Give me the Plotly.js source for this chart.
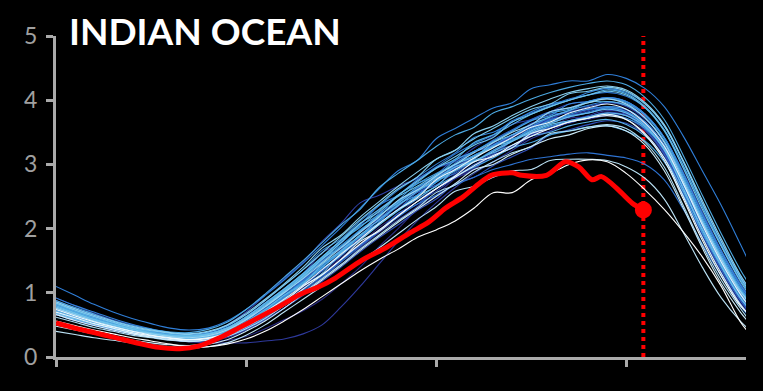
<!DOCTYPE html>
<html>
<head>
<meta charset="utf-8">
<script src="https://cdn.plot.ly/plotly-3.0.1.min.js"></script>
<style>html,body{margin:0;padding:0;background:#000;}#chart{width:763px;height:391px;}</style>
</head>
<body>
<div id="chart"></div>
<script>
// Day-of-year sample points for historical years
const days = [0,10,20,30,40,50,60,70,80,90,100,110,120,130,140,150,160,170,180,190,200,210,220,230,240,250,260,270,280,290,300,310,320,330,340,350,360,365];

// Historical sea-ice extent (million km²), Indian Ocean sector
const y1979 = [0.82,0.70,0.62,0.52,0.45,0.38,0.33,0.30,0.30,0.35,0.47,0.63,0.84,1.08,1.30,1.55,1.76,2.02,2.22,2.46,2.62,2.84,2.98,3.20,3.30,3.48,3.58,3.72,3.74,3.82,3.76,3.62,3.20,2.62,1.98,1.42,0.94,0.74];
const y1980 = [0.92,0.80,0.68,0.58,0.50,0.43,0.38,0.34,0.36,0.44,0.60,0.80,1.02,1.22,1.48,1.70,1.94,2.14,2.40,2.58,2.80,2.94,3.14,3.26,3.42,3.56,3.70,3.76,3.86,3.88,3.84,3.66,3.30,2.74,2.12,1.56,1.04,0.82];
const y1981 = [0.70,0.60,0.52,0.44,0.37,0.32,0.27,0.24,0.24,0.26,0.32,0.44,0.58,0.72,0.90,1.14,1.40,1.72,2.00,2.30,2.52,2.78,2.94,3.12,3.26,3.44,3.52,3.66,3.70,3.76,3.72,3.52,3.14,2.55,1.92,1.36,0.88,0.66];
const y1982 = [0.78,0.68,0.58,0.50,0.42,0.37,0.32,0.30,0.32,0.40,0.55,0.74,0.92,1.20,1.40,1.68,1.88,2.16,2.34,2.60,2.74,2.98,3.10,3.32,3.42,3.64,3.70,3.84,3.86,3.96,3.90,3.70,3.36,2.80,2.18,1.60,1.10,0.88];
const y1983 = [0.80,0.68,0.57,0.49,0.40,0.34,0.28,0.26,0.26,0.30,0.42,0.58,0.76,0.98,1.22,1.44,1.70,1.94,2.14,2.34,2.62,2.78,2.92,3.18,3.26,3.44,3.58,3.64,3.74,3.78,3.76,3.56,3.18,2.58,1.94,1.40,0.90,0.72];
const y1984 = [0.66,0.57,0.50,0.43,0.37,0.31,0.27,0.24,0.22,0.22,0.22,0.25,0.28,0.36,0.50,0.78,1.10,1.45,1.80,2.12,2.40,2.64,2.86,3.04,3.22,3.40,3.52,3.66,3.76,3.84,3.80,3.60,3.24,2.66,2.04,1.46,0.96,0.76];
const y1985 = [0.88,0.76,0.66,0.56,0.48,0.41,0.36,0.33,0.35,0.44,0.62,0.84,1.06,1.30,1.62,1.78,2.06,2.30,2.52,2.74,2.96,3.06,3.26,3.44,3.62,3.70,3.82,3.94,3.98,4.04,3.98,3.78,3.42,2.88,2.26,1.66,1.14,0.94];
const y1986 = [0.76,0.65,0.56,0.48,0.41,0.36,0.33,0.33,0.38,0.50,0.70,0.96,1.22,1.48,1.80,2.08,2.40,2.52,2.66,2.78,2.94,3.04,3.20,3.30,3.46,3.58,3.70,3.76,3.84,3.90,3.86,3.66,3.30,2.74,2.10,1.52,1.00,0.80];
const y1987 = [0.72,0.62,0.54,0.46,0.39,0.33,0.29,0.26,0.28,0.34,0.47,0.64,0.82,1.06,1.28,1.52,1.74,1.98,2.18,2.42,2.58,2.80,2.96,3.14,3.28,3.46,3.56,3.68,3.74,3.80,3.78,3.58,3.20,2.60,1.96,1.40,0.90,0.70];
const y1988 = [0.80,0.70,0.60,0.51,0.43,0.36,0.31,0.29,0.30,0.37,0.50,0.68,0.88,1.10,1.34,1.58,1.84,2.14,2.28,2.52,2.76,2.94,3.14,3.28,3.46,3.62,3.78,3.80,3.90,3.96,3.94,3.76,3.42,2.86,2.24,1.64,1.12,0.90];
const y1989 = [0.68,0.58,0.50,0.42,0.36,0.31,0.27,0.25,0.26,0.32,0.43,0.58,0.76,0.96,1.18,1.40,1.64,1.86,2.06,2.28,2.46,2.70,2.80,2.98,3.12,3.26,3.46,3.54,3.62,3.68,3.64,3.46,3.10,2.50,1.88,1.32,0.84,0.64];
const y1990 = [0.76,0.65,0.56,0.48,0.41,0.35,0.31,0.29,0.31,0.38,0.53,0.72,0.92,1.20,1.36,1.62,1.86,2.08,2.30,2.56,2.68,2.88,3.04,3.16,3.36,3.52,3.64,3.74,3.80,3.86,3.80,3.60,3.22,2.62,1.98,1.42,0.92,0.72];
const y1991 = [0.82,0.72,0.62,0.53,0.45,0.39,0.34,0.31,0.34,0.43,0.60,0.80,1.02,1.26,1.50,1.72,1.94,2.24,2.42,2.62,2.80,2.98,3.20,3.28,3.44,3.60,3.72,3.82,3.86,3.96,3.92,3.72,3.36,2.78,2.14,1.56,1.06,0.84];
const y1992 = [0.70,0.60,0.52,0.44,0.37,0.32,0.28,0.26,0.27,0.33,0.45,0.62,0.80,1.02,1.24,1.48,1.72,1.96,2.24,2.38,2.62,2.80,3.00,3.14,3.26,3.50,3.58,3.68,3.74,3.80,3.76,3.54,3.16,2.56,1.92,1.36,0.88,0.70];
const y1993 = [0.78,0.68,0.58,0.50,0.43,0.37,0.33,0.31,0.34,0.42,0.57,0.76,0.98,1.20,1.44,1.64,1.98,2.16,2.40,2.62,2.84,3.08,3.20,3.38,3.54,3.70,3.82,3.88,3.98,4.04,3.98,3.78,3.42,2.86,2.24,1.66,1.14,0.92];
const y1994 = [0.74,0.64,0.55,0.47,0.40,0.34,0.30,0.28,0.30,0.37,0.50,0.68,0.94,1.12,1.34,1.58,1.82,2.06,2.30,2.50,2.74,2.86,3.04,3.22,3.36,3.52,3.70,3.74,3.82,3.88,3.82,3.62,3.26,2.68,2.04,1.48,0.98,0.78];
const y1995 = [0.66,0.57,0.49,0.42,0.36,0.31,0.27,0.25,0.27,0.33,0.46,0.62,0.82,1.04,1.26,1.50,1.74,1.96,2.18,2.38,2.52,2.68,2.80,2.92,3.00,3.08,3.12,3.16,3.18,3.14,3.10,3.00,2.76,2.30,1.76,1.26,0.80,0.62];
const y1996 = [0.86,0.75,0.64,0.55,0.47,0.40,0.36,0.34,0.37,0.46,0.63,0.84,1.06,1.30,1.56,1.80,2.06,2.36,2.52,2.76,2.96,3.16,3.32,3.46,3.68,3.80,3.92,4.02,4.08,4.12,4.06,3.88,3.54,2.98,2.36,1.76,1.22,0.98];
const y1997 = [1.10,0.96,0.82,0.70,0.60,0.52,0.45,0.42,0.45,0.56,0.74,0.96,1.20,1.46,1.74,2.02,2.32,2.62,2.90,3.06,3.40,3.56,3.72,3.88,3.96,4.18,4.24,4.30,4.30,4.40,4.34,4.18,3.90,3.44,2.90,2.36,1.76,1.45];
const y1998 = [0.92,0.80,0.70,0.60,0.51,0.44,0.38,0.36,0.39,0.48,0.66,0.88,1.12,1.36,1.66,1.84,2.12,2.36,2.60,2.80,3.00,3.18,3.42,3.50,3.66,3.82,3.94,4.00,4.12,4.18,4.12,3.94,3.60,3.04,2.40,1.80,1.26,1.04];
const y1999 = [0.72,0.62,0.54,0.46,0.40,0.35,0.31,0.29,0.32,0.40,0.55,0.74,0.96,1.18,1.42,1.66,1.96,2.12,2.36,2.58,2.74,3.00,3.14,3.30,3.46,3.58,3.74,3.84,3.92,3.98,3.92,3.72,3.36,2.78,2.14,1.56,1.06,0.84];
const y2000 = [0.80,0.70,0.60,0.52,0.44,0.38,0.34,0.32,0.35,0.44,0.60,0.80,1.02,1.22,1.52,1.74,1.98,2.20,2.44,2.70,2.82,3.02,3.20,3.36,3.52,3.68,3.76,3.94,3.98,4.04,3.98,3.78,3.42,2.86,2.22,1.64,1.12,0.92];
const y2001 = [0.76,0.66,0.56,0.48,0.41,0.36,0.31,0.29,0.31,0.39,0.54,0.72,0.94,1.16,1.40,1.64,1.88,2.10,2.38,2.52,2.72,2.92,3.08,3.30,3.38,3.56,3.68,3.78,3.86,3.90,3.86,3.66,3.30,2.72,2.08,1.50,1.00,0.80];
const y2002 = [0.70,0.60,0.52,0.45,0.39,0.34,0.30,0.28,0.30,0.38,0.52,0.70,0.92,1.14,1.38,1.58,1.90,2.08,2.30,2.52,2.72,2.96,3.04,3.22,3.38,3.54,3.66,3.76,3.80,3.88,3.82,3.62,3.24,2.64,2.00,1.44,0.94,0.74];
const y2003 = [0.84,0.73,0.63,0.54,0.46,0.40,0.35,0.33,0.36,0.45,0.62,0.82,1.04,1.28,1.54,1.78,2.04,2.22,2.52,2.70,2.86,3.00,3.14,3.26,3.40,3.48,3.60,3.66,3.72,3.78,3.72,3.56,3.24,2.70,2.10,1.56,1.06,0.86];
const y2004 = [0.78,0.68,0.58,0.50,0.43,0.37,0.33,0.31,0.34,0.42,0.58,0.78,1.00,1.24,1.54,1.70,1.96,2.20,2.42,2.64,2.80,3.06,3.20,3.36,3.52,3.68,3.80,3.86,3.98,4.02,3.96,3.76,3.40,2.82,2.18,1.60,1.08,0.88];
const y2005 = [0.74,0.64,0.55,0.47,0.40,0.35,0.31,0.29,0.31,0.39,0.53,0.72,0.96,1.16,1.40,1.64,1.88,2.08,2.28,2.46,2.66,2.82,2.96,3.10,3.26,3.34,3.46,3.52,3.58,3.60,3.52,3.36,3.04,2.52,1.94,1.40,0.92,0.74];
const y2006 = [0.88,0.77,0.67,0.57,0.49,0.43,0.39,0.38,0.43,0.54,0.74,0.98,1.24,1.50,1.78,2.06,2.30,2.64,2.86,3.06,3.28,3.46,3.58,3.80,3.90,4.02,4.12,4.20,4.26,4.30,4.24,4.04,3.70,3.14,2.52,1.92,1.36,1.12];
const y2007 = [0.82,0.71,0.61,0.53,0.45,0.39,0.35,0.33,0.36,0.45,0.62,0.82,1.04,1.28,1.54,1.82,2.02,2.28,2.52,2.72,2.94,3.08,3.34,3.46,3.62,3.78,3.90,4.00,4.08,4.16,4.10,3.90,3.54,2.98,2.34,1.74,1.20,1.00];
const y2008 = [0.76,0.66,0.56,0.48,0.41,0.36,0.32,0.30,0.33,0.42,0.58,0.78,1.00,1.24,1.48,1.72,1.96,2.20,2.40,2.60,2.74,2.90,3.06,3.18,3.30,3.44,3.50,3.60,3.66,3.70,3.62,3.44,3.10,2.58,2.00,1.46,0.98,0.80];
const y2009 = [0.72,0.62,0.54,0.46,0.40,0.35,0.31,0.29,0.32,0.40,0.55,0.74,0.96,1.14,1.44,1.66,1.90,2.14,2.36,2.58,2.78,2.96,3.10,3.34,3.46,3.62,3.74,3.84,3.96,3.98,3.92,3.72,3.36,2.78,2.14,1.56,1.04,0.86];
const y2010 = [0.80,0.69,0.59,0.51,0.44,0.38,0.34,0.33,0.36,0.45,0.62,0.84,1.06,1.30,1.56,1.82,2.08,2.30,2.50,2.66,2.84,3.00,3.12,3.28,3.36,3.50,3.62,3.68,3.74,3.80,3.76,3.58,3.24,2.70,2.10,1.54,1.04,0.84];
const y2011 = [0.68,0.59,0.51,0.44,0.37,0.32,0.28,0.27,0.29,0.36,0.50,0.68,0.88,1.10,1.30,1.62,1.82,2.06,2.28,2.50,2.66,2.92,3.04,3.20,3.36,3.52,3.64,3.74,3.80,3.86,3.80,3.60,3.22,2.62,1.98,1.42,0.92,0.74];
const y2012 = [0.78,0.68,0.58,0.50,0.43,0.37,0.33,0.32,0.35,0.44,0.60,0.80,1.02,1.26,1.52,1.78,2.08,2.26,2.52,2.74,2.94,3.12,3.30,3.42,3.66,3.78,3.90,4.00,4.08,4.14,4.08,3.88,3.52,2.94,2.30,1.72,1.18,0.96];
const y2013 = [0.84,0.73,0.63,0.54,0.46,0.41,0.37,0.35,0.39,0.49,0.66,0.88,1.12,1.36,1.62,1.88,2.14,2.38,2.62,2.80,3.08,3.22,3.40,3.56,3.72,3.86,3.94,4.10,4.14,4.20,4.14,3.94,3.60,3.04,2.40,1.80,1.24,1.02];
const y2014 = [0.86,0.75,0.65,0.56,0.48,0.42,0.38,0.36,0.40,0.50,0.68,0.90,1.14,1.40,1.70,1.90,2.18,2.42,2.66,2.88,3.08,3.22,3.48,3.60,3.76,3.90,4.02,4.12,4.18,4.22,4.16,3.96,3.62,3.06,2.44,1.84,1.28,1.06];
const y2015 = [0.76,0.66,0.56,0.48,0.41,0.36,0.32,0.30,0.33,0.42,0.58,0.78,1.00,1.22,1.46,1.70,1.94,2.18,2.44,2.60,2.82,3.00,3.18,3.34,3.50,3.62,3.82,3.88,3.96,4.02,3.94,3.72,3.34,2.74,2.10,1.52,1.02,0.84];
const y2016 = [0.62,0.54,0.46,0.40,0.34,0.30,0.26,0.24,0.26,0.32,0.44,0.60,0.80,1.00,1.22,1.44,1.68,1.90,2.12,2.32,2.56,2.68,2.88,3.04,3.18,3.28,3.48,3.52,3.58,3.62,3.56,3.34,2.96,2.36,1.74,1.20,0.76,0.56];
const y2017 = [0.40,0.35,0.30,0.26,0.22,0.19,0.16,0.14,0.16,0.22,0.34,0.50,0.70,0.90,1.10,1.30,1.50,1.70,1.92,2.14,2.34,2.58,2.66,2.80,2.90,2.92,3.06,3.08,3.08,3.06,2.96,2.78,2.46,1.94,1.40,0.92,0.56,0.42];
const y2018 = [0.48,0.42,0.36,0.31,0.26,0.22,0.19,0.18,0.20,0.27,0.40,0.56,0.76,0.98,1.20,1.42,1.66,1.88,2.10,2.30,2.50,2.70,2.92,3.00,3.16,3.28,3.40,3.46,3.56,3.60,3.52,3.30,2.90,2.32,1.70,1.14,0.70,0.52];
const y2019 = [0.66,0.57,0.49,0.42,0.36,0.31,0.27,0.25,0.27,0.34,0.47,0.64,0.84,1.06,1.28,1.52,1.80,1.96,2.20,2.42,2.62,2.80,2.98,3.14,3.26,3.48,3.56,3.66,3.72,3.76,3.70,3.48,3.10,2.50,1.86,1.30,0.82,0.64];
const y2020 = [0.70,0.61,0.52,0.45,0.38,0.33,0.29,0.27,0.30,0.37,0.51,0.70,0.90,1.12,1.36,1.60,1.84,2.08,2.30,2.48,2.76,2.92,3.10,3.26,3.42,3.58,3.66,3.80,3.88,3.94,3.86,3.64,3.28,2.70,2.06,1.48,0.98,0.78];
const y2021 = [0.74,0.64,0.55,0.47,0.40,0.34,0.30,0.27,0.29,0.36,0.49,0.66,0.86,1.10,1.28,1.52,1.76,1.98,2.20,2.42,2.62,2.82,3.04,3.12,3.30,3.44,3.56,3.66,3.72,3.78,3.70,3.46,3.06,2.46,1.82,1.26,0.80,0.66];
const y2022 = [0.56,0.49,0.42,0.36,0.30,0.25,0.20,0.16,0.16,0.20,0.28,0.40,0.56,0.74,0.94,1.14,1.34,1.52,1.68,1.86,1.98,2.12,2.32,2.56,2.56,2.76,2.86,3.00,3.07,3.04,2.86,2.60,2.30,1.95,1.56,1.10,0.55,0.36];

const histYears = [1979,1980,1981,1982,1983,1984,1985,1986,1987,1988,1989,1990,1991,1992,1993,1994,1995,1996,1997,1998,1999,2000,2001,2002,2003,2004,2005,2006,2007,2008,2009,2010,2011,2012,2013,2014,2015,2016,2017,2018,2019,2020,2021,2022];
const histValues = [y1979,y1980,y1981,y1982,y1983,y1984,y1985,y1986,y1987,y1988,y1989,y1990,y1991,y1992,y1993,y1994,y1995,y1996,y1997,y1998,y1999,y2000,y2001,y2002,y2003,y2004,y2005,y2006,y2007,y2008,y2009,y2010,y2011,y2012,y2013,y2014,y2015,y2016,y2017,y2018,y2019,y2020,y2021,y2022];

// Current year (2023)
const curDays = [0,10,20,30,44,54,65,75,86,96,107,117,128,138,147,161,174,186,196,205,214,223,229,240,245,258,268,275,282,287,296,303,309];
const curValues = [0.53,0.45,0.38,0.31,0.21,0.15,0.13,0.17,0.30,0.45,0.62,0.78,0.97,1.09,1.23,1.51,1.71,1.93,2.10,2.32,2.49,2.71,2.83,2.87,2.83,2.83,3.04,2.96,2.76,2.81,2.60,2.40,2.29];

const titleText = 'INDIAN OCEAN';
const xTicks = [0,100,200,300];
const yTicks = [0,1,2,3,4,5];

// colour ramp (style): navy -> blue -> sky -> white
const stops = [[0,[40,36,120]],[0.2,[50,72,182]],[0.4,[45,122,215]],[0.6,[70,165,225]],[0.78,[115,198,236]],[0.9,[200,232,248]],[1,[255,255,255]]];
function ramp(t){
  for(let i=1;i<stops.length;i++){
    if(t<=stops[i][0]){
      const a=stops[i-1], b=stops[i]; const f=(t-a[0])/(b[0]-a[0]);
      const c=a[1].map((v,k)=>Math.round(v+(b[1][k]-v)*f));
      return 'rgb('+c.join(',')+')';
    }
  }
  return 'rgb(255,255,255)';
}

const traces = histValues.map((vals,i)=>({
  type:'scatter', mode:'lines', x:days, y:vals, name:String(histYears[i]),
  line:{color:ramp(i/(histValues.length-1)), width:1.1, shape:'spline', smoothing:1},
  hoverinfo:'skip'
}));

traces.push({
  type:'scatter', mode:'lines', x:curDays, y:curValues, name:'2023',
  line:{color:'#ff0000', width:5, shape:'spline', smoothing:0.8}, hoverinfo:'skip'
});
traces.push({
  type:'scatter', mode:'markers', x:[curDays[curDays.length-1]], y:[curValues[curValues.length-1]],
  marker:{color:'#ff0000', size:17}, hoverinfo:'skip'
});

const lastDay = curDays[curDays.length-1];

const layout = {
  width:763, height:391,
  paper_bgcolor:'#000', plot_bgcolor:'#000',
  margin:{l:56, r:17, t:36, b:34},
  showlegend:false,
  xaxis:{
    range:[0,363], tickvals:xTicks, showticklabels:false, ticks:'outside', ticklen:7, tickwidth:3,
    tickcolor:'#aaaaaa', showline:true, linecolor:'#aaaaaa', linewidth:3, showgrid:false, zeroline:false,
    fixedrange:true
  },
  yaxis:{
    range:[0,5], tickvals:yTicks, ticks:'outside', ticklen:7, tickwidth:3, tickcolor:'#aaaaaa',
    showline:true, linecolor:'#aaaaaa', linewidth:3, showgrid:false, zeroline:false,
    tickfont:{family:'Lato, "DejaVu Sans", sans-serif', size:23, color:'#a0a0a0'},
    ticklabelstandoff:4, fixedrange:true
  },
  shapes:[{
    type:'line', xref:'x', yref:'y', x0:lastDay, x1:lastDay, y0:0, y1:5,
    line:{color:'#ff0000', width:4, dash:'dot'}, layer:'below'
  }],
  annotations:[{
    text:titleText, xref:'paper', yref:'paper', x:0.016, y:1.092, xanchor:'left', yanchor:'top',
    showarrow:false, font:{family:'Lato, "Liberation Sans", sans-serif', size:37, color:'#ffffff', weight:'bold'}
  }]
};

Plotly.newPlot('chart', traces, layout, {staticPlot:true, displayModeBar:false});
</script>
</body>
</html>
